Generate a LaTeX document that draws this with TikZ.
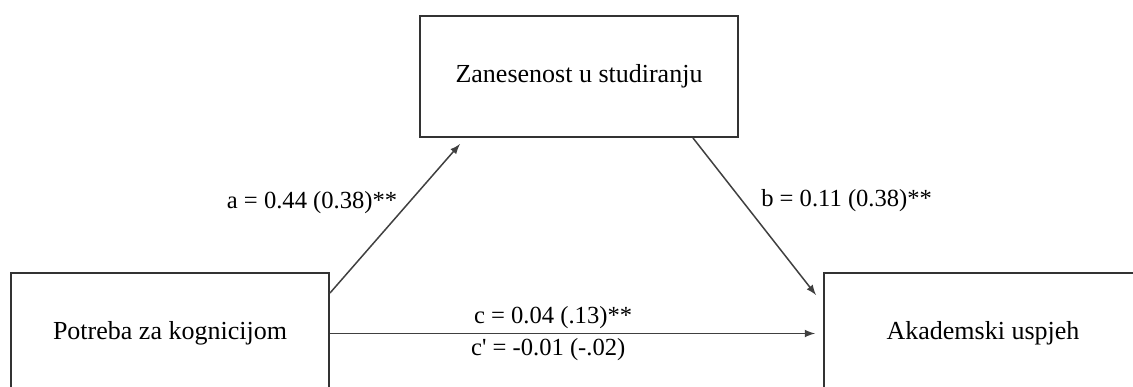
\documentclass[tikz,border=0pt]{standalone}
\usepackage{fontspec}
\setmainfont{Liberation Serif}
\usetikzlibrary{arrows,positioning,calc}

\begin{document}
\begin{tikzpicture}[
    x=0.5pt, y=-0.5pt,
    >=latex,
    varbox/.style={rectangle, draw=black!80, line width=1pt, minimum width=159pt, minimum height=60.5pt, font=\fontsize{13}{15}\selectfont},
    effect/.style={->, draw=black!75, line width=0.75pt},
    coef/.style={font=\fontsize{12.3}{14}\selectfont, inner sep=2pt}
    ]
    \useasboundingbox (0,0) rectangle (1133,386);
    \clip (0,0) rectangle (1133,386);
    % Mediator
    \node[varbox] (zan) at (579,76.5) {Zanesenost u studiranju};
    % Predictor and outcome
    \node[varbox, below left=67pt and 44.5pt of zan] (pot) {Potreba za kognicijom};
    \node[varbox, below right=67pt and 42pt of zan] (usp) {Akademski uspjeh};
    % Paths a and b
    \draw[effect] ([yshift=-10.5pt]pot.north east) -- ([xshift=20.5pt, yshift=-3pt]zan.south west)
        node[coef, midway, above left, xshift=3.5pt] {a = 0.44 (0.38)**};
    \draw[effect] ([xshift=-23pt]zan.south east) -- ([xshift=-3.5pt, yshift=-11.5pt]usp.north west)
        node[coef, midway, above right, xshift=1pt] {b = 0.11 (0.38)**};
    % Path c
    \draw[effect] (pot.east) -- ([xshift=-4pt]usp.west)
        node[coef, pos=0.46, above] {c = 0.04 (.13)**}
        node[coef, pos=0.45, below] {c\textquotesingle{} = -0.01 (-.02)};
\end{tikzpicture}
\end{document}
